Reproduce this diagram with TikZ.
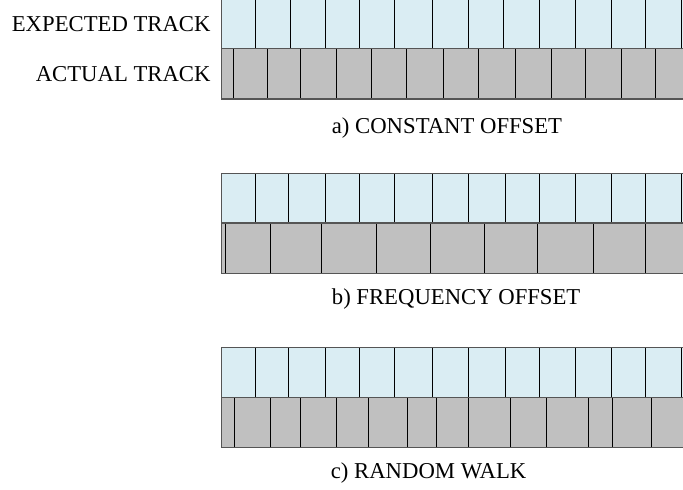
\documentclass[tikz,border=0pt]{standalone}
\usepackage{fontspec}
\setmainfont{Liberation Serif}
\definecolor{expfill}{HTML}{DAEDF3}
\definecolor{actfill}{HTML}{C0C0C0}
\definecolor{edgegray}{HTML}{555555}
\tikzset{
  lbl/.style={inner sep=0pt, font=\fontsize{22.7}{27}\selectfont},
  divider/.style={draw=black, line width=1.1pt},
  rowedge/.style={draw=edgegray, line width=1.3pt},
  expbox/.style={fill=expfill},
  actbox/.style={fill=actfill}
}
% #1 top, #2 middle, #3 bottom, #4 expected dividers, #5 actual dividers
\newcommand{\trackpanel}[5]{%
  \fill[expbox] (221.7,#1) rectangle (690,#2);
  \fill[actbox] (221.7,#2) rectangle (690,#3);
  \foreach \xx in {#4} {\draw[divider] (\xx,#1) -- (\xx,#2);}
  \foreach \xx in {#5} {\draw[divider] (\xx,#2) -- (\xx,#3);}
  \draw[rowedge] (690,#1) -- (221.7,#1) -- (221.7,#3) -- (690,#3);
  \draw[rowedge] (221.7,#2) -- (690,#2);
}
\begin{document}
\begin{tikzpicture}[x=1pt,y=-1pt]
\useasboundingbox (0,0) rectangle (683,490);
\clip (0,0) rectangle (683,490);
\fill[white] (0,0) rectangle (683,490);

% a) constant offset
\trackpanel{-1.5}{48.3}{99}
  {255.7,290.3,325.3,359.7,394.3,432.3,468.3,503.3,539.3,575.3,611.3,645.3,681.3}
  {233.3,267.3,300.3,336.3,371.7,406.3,443.3,478.7,515.7,551.3,585.3,621.3,655.3}

% b) frequency offset
\trackpanel{173.3}{223}{273.3}
  {255.7,288.7,325.3,359.7,394.3,432.3,468.3,505.3,539.3,575.3,611.3,645.3,681.3}
  {225.3,270.3,321.3,376.3,430.3,484.3,537.3,593.3,645.7}

% c) random walk
\trackpanel{347.3}{397.3}{447.3}
  {255.7,288.7,325.3,359.7,394.3,432.3,468.3,505.3,539.3,575.3,611.3,645.3,681.3}
  {234.3,270.3,300.3,336.3,368.3,407.7,436.7,468.3,510.3,546.3,588.3,612.3,651.3}

\node[lbl, anchor=base east] (exp) at (210.7,31.7) {EXPECTED TRACK};
\node[lbl, anchor=base east] (act) at (210.7,81.7) {ACTUAL TRACK};
\node[lbl, anchor=base west] (capa) at (331.7,133.3) {a) CONSTANT OFFSET};
\node[lbl, anchor=base west] (capb) at (331.7,304.3) {b) FREQUENCY OFFSET};
\node[lbl, anchor=base west] (capc) at (330.7,478.3) {c) RANDOM WALK};
\end{tikzpicture}
\end{document}
